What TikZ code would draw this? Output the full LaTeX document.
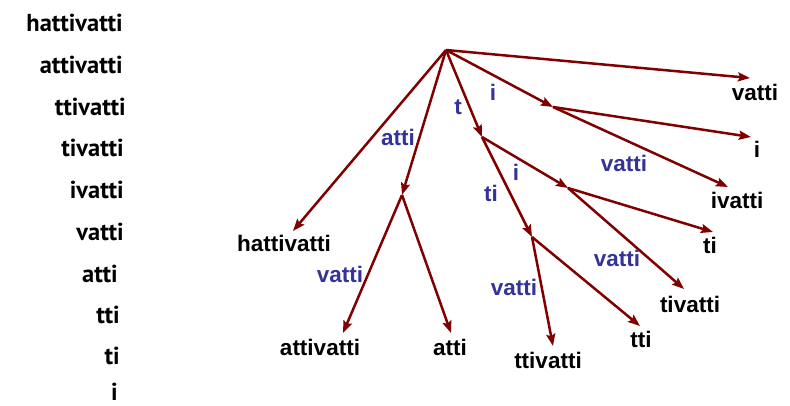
\documentclass[tikz,border=0pt]{standalone}
\usepackage{fontspec}
\setmainfont{Liberation Sans}
\newfontfamily\listfont{PT Sans}
\usetikzlibrary{arrows.meta}
\definecolor{edgered}{RGB}{128,0,0}
\definecolor{edgeblue}{RGB}{51,51,153}
\tikzset{
  edge/.style={draw=edgered, line width=2.5pt,
    -{Stealth[length=12pt,width=9pt,inset=2pt]}},
  leaf/.style={font=\fontsize{22.5}{24}\selectfont\bfseries, text=black, inner sep=0pt},
  elabel/.style={font=\fontsize{22.5}{24}\selectfont\bfseries, text=edgeblue, inner sep=0pt},
  suffix/.style={font=\listfont\fontsize{24.5}{26}\selectfont\bfseries, text=black, inner sep=0pt, anchor=east},
}
\begin{document}
\begin{tikzpicture}[x=1pt,y=-1pt]
\useasboundingbox (0,0) rectangle (790,406);

% list of suffixes
\node[suffix] (s1)  at (123,23)  {hattivatti};
\node[suffix] (s2)  at (123,65)  {attivatti};
\node[suffix] (s3)  at (126,107) {ttivatti};
\node[suffix] (s4)  at (124,148) {tivatti};
\node[suffix] (s5)  at (124,190) {ivatti};
\node[suffix] (s6)  at (124,232) {vatti};
\node[suffix] (s7)  at (118,274) {atti};
\node[suffix] (s8)  at (120,315) {tti};
\node[suffix] (s9)  at (120,356) {ti};
\node[suffix] (s10) at (118,392) {i};

% internal nodes of the suffix tree
\coordinate (root) at (446,50);
\coordinate (nA)   at (402,195);
\coordinate (nT)   at (482,137);
\coordinate (nI)   at (553,107);
\coordinate (nTI)  at (532,237);
\coordinate (nTIi) at (568,188);

% leaves and the points where their arrows end
\node[leaf] (lhatti)  at (284,243) {hattivatti};
\coordinate (thatti)  at (293,231);
\node[leaf] (lattiv)  at (320,347) {attivatti};
\coordinate (tattiv)  at (343,333);
\node[leaf] (latti)   at (450,347) {atti};
\coordinate (tatti)   at (451,333);
\node[leaf] (lvatti)  at (755,92)  {vatti};
\coordinate (tvatti)  at (750,78);
\node[leaf] (li)      at (757,149) {i};
\coordinate (ti)      at (751,137);
\node[leaf] (livatti) at (737,200) {ivatti};
\coordinate (tivatti) at (728,187);
\node[leaf] (lti)     at (710,245) {ti};
\coordinate (tti)     at (713,232);
\node[leaf] (ltivat)  at (690,304) {tivatti};
\coordinate (ttivat)  at (684,289);
\node[leaf] (ltti)    at (641,339) {tti};
\coordinate (ttti)    at (640,326);
\node[leaf] (lttiv)   at (548,360) {ttivatti};
\coordinate (tttiv)   at (553,346);

% edges
\draw[edge] (root) -- (thatti);
\draw[edge] (root) -- (nA);
\draw[edge] (root) -- (nT);
\draw[edge] (root) -- (nI);
\draw[edge] (root) -- (tvatti);
\draw[edge] (nA) -- (tattiv);
\draw[edge] (nA) -- (tatti);
\draw[edge] (nI) -- (ti);
\draw[edge] (nI) -- (tivatti);
\draw[edge] (nT) -- (nTI);
\draw[edge] (nT) -- (nTIi);
\draw[edge] (nTIi) -- (tti);
\draw[edge] (nTIi) -- (ttivat);
\draw[edge] (nTI) -- (ttti);
\draw[edge] (nTI) -- (tttiv);

% edge labels
\node[elabel] (eatti)  at (398,137) {atti};
\node[elabel] (et)     at (458,107) {t};
\node[elabel] (ei)     at (493,92)  {i};
\node[elabel] (eti)    at (491,193) {ti};
\node[elabel] (ei2)    at (516,172) {i};
\node[elabel] (ev1)    at (624,163) {vatti};
\node[elabel] (ev2)    at (617,258) {vatti};
\node[elabel] (ev3)    at (514,287) {vatti};
\node[elabel] (ev4)    at (340,274) {vatti};
\end{tikzpicture}
\end{document}
